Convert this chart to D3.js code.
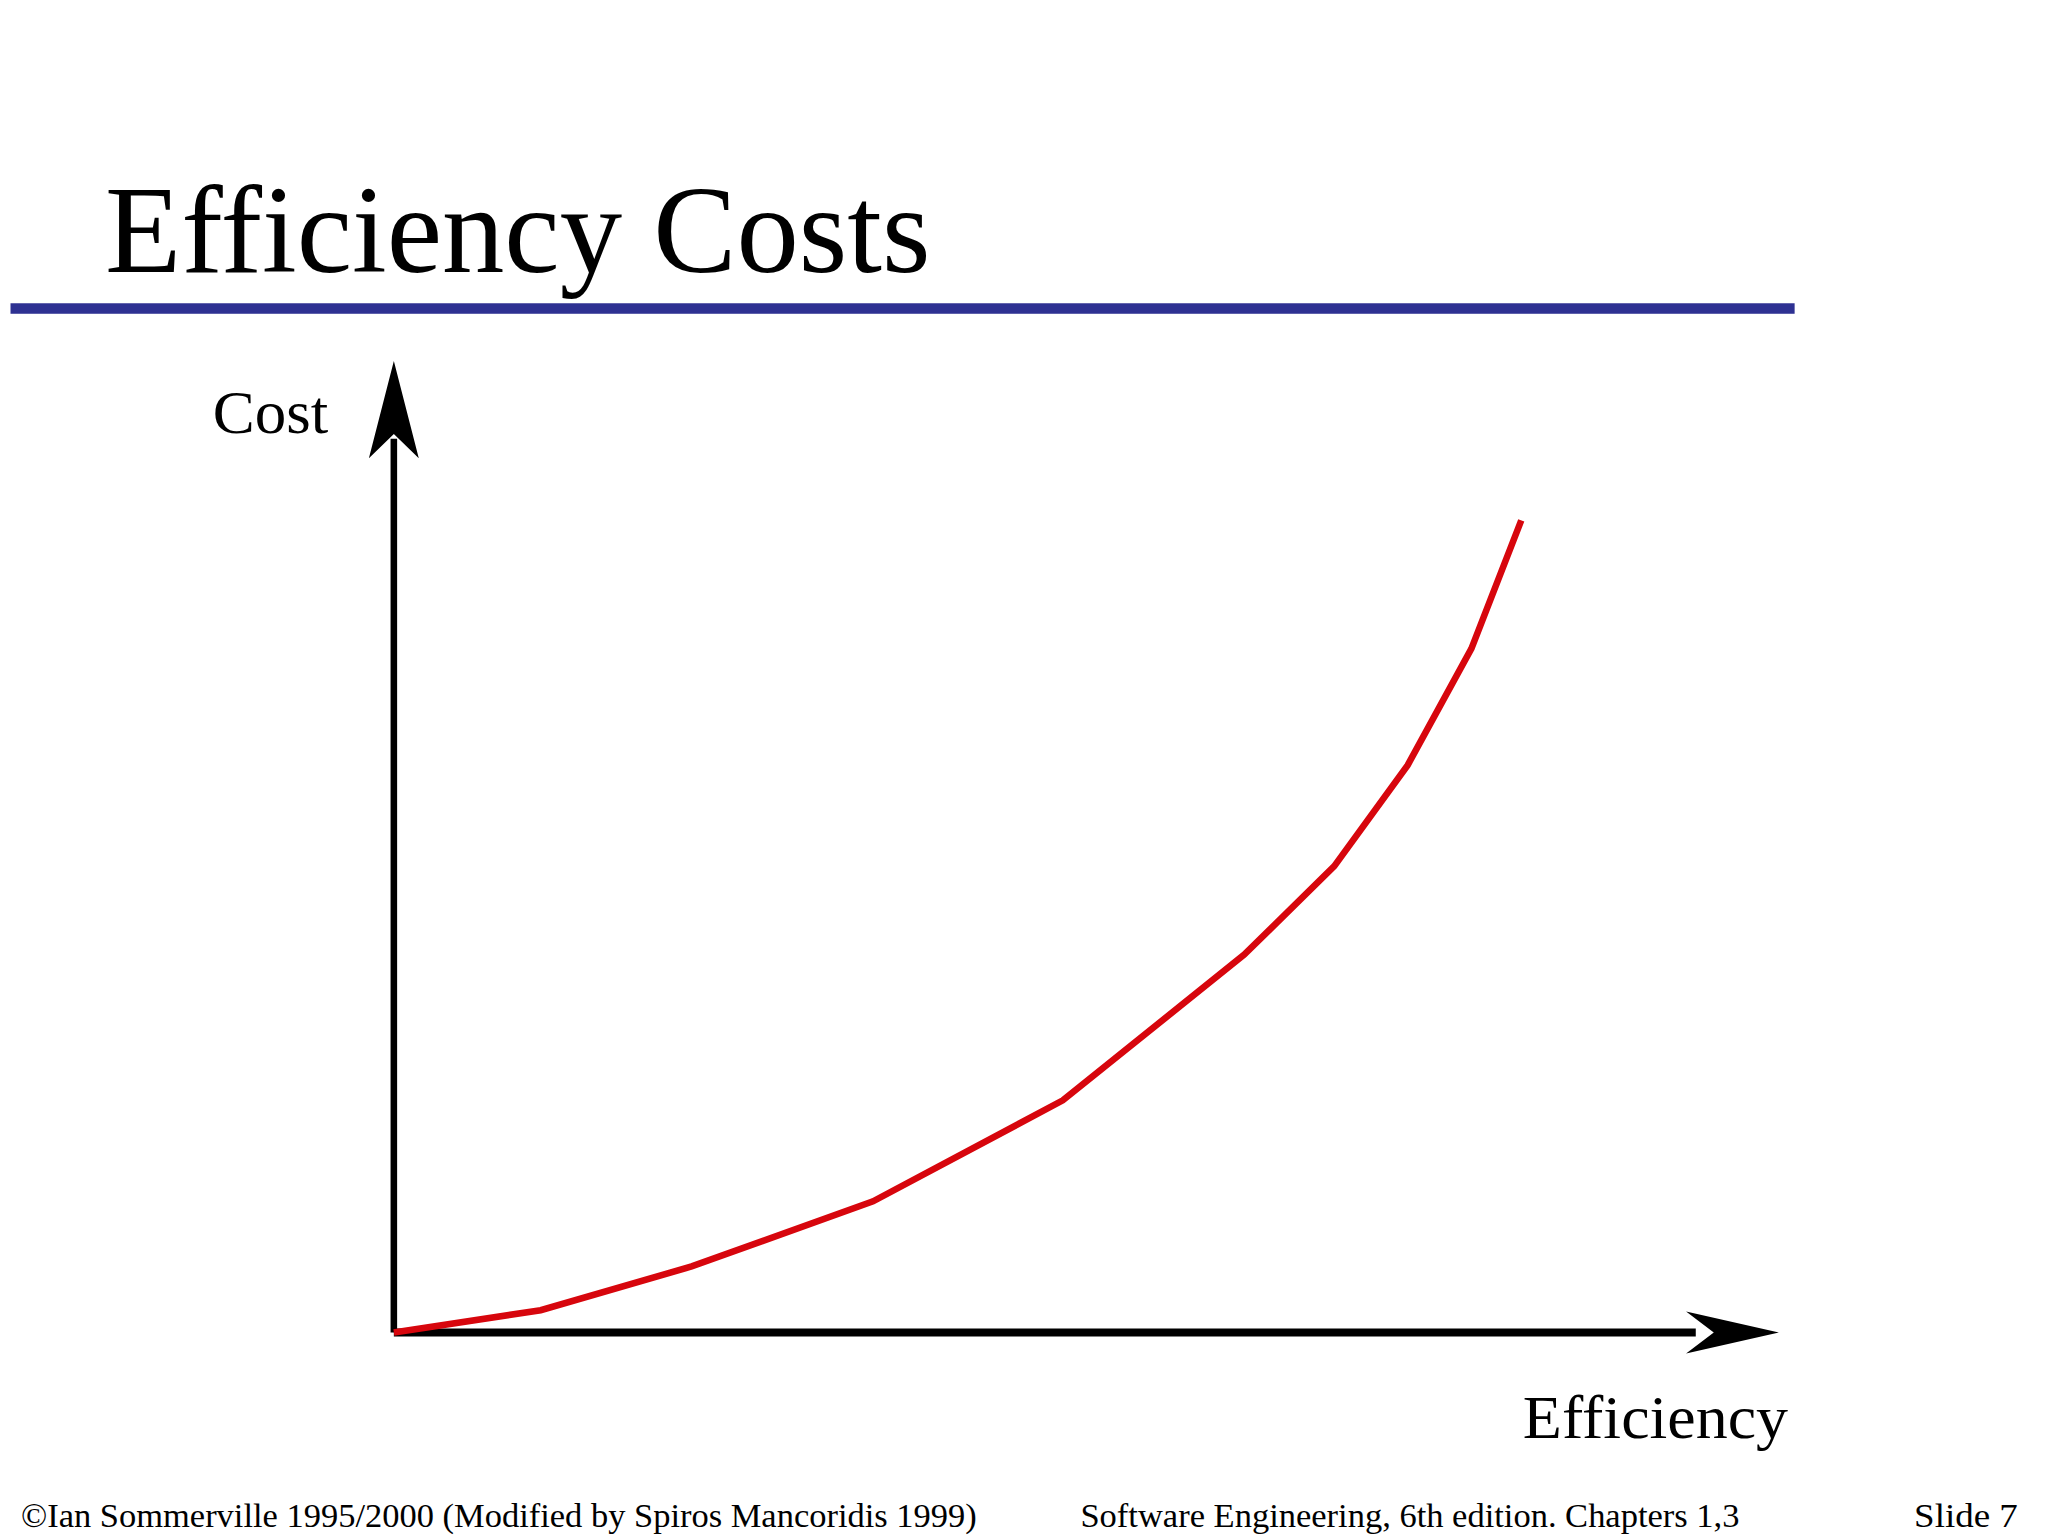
<!DOCTYPE html>
<html><head><meta charset="utf-8">
<script src="https://cdn.jsdelivr.net/npm/d3@7"></script>
<style>body{margin:0;background:#fff}</style>
</head><body>
<div id="chart"></div>
<script>
// efficiency (x) vs cost (y), both on 0-100 relative scale
const efficiency = [0, 10.6, 21.5, 34.6, 48.3, 61.4, 67.9, 73.2, 77.8, 81.4];
const cost = [0, 2.3, 6.8, 13.5, 23.9, 38.9, 48, 58.4, 70.4, 83.6];
const title = "Efficiency Costs";
const footer = ["©Ian Sommerville 1995/2000 (Modified by Spiros Mancoridis 1999)", "Software Engineering, 6th edition. Chapters 1,3", "Slide  7"];

const W = 1560, H = 1170;
const svg = d3.select("#chart").append("svg")
  .attr("width", 2048).attr("height", 1536)
  .attr("viewBox", [0, 0, W, H])
  .style("font-family", "'Liberation Serif', 'Times New Roman', serif");

const x = d3.scaleLinear().domain([0, 100]).range([300, 1355]);
const y = d3.scaleLinear().domain([0, 100]).range([1015, 275]);

svg.append("text").attr("x", 80).attr("y", 207).attr("font-size", 95).text(title);
svg.append("rect").attr("x", 8).attr("y", 231).attr("width", 1359).attr("height", 8).attr("fill", "#2e3192");

// axes with arrowheads
svg.append("line").attr("x1", x(0)).attr("y1", y(0)).attr("x2", x(0)).attr("y2", y(92))
  .attr("stroke", "#000").attr("stroke-width", 5);
svg.append("path").attr("d", `M${x(0)},${y(100)} L${x(0)-19},${y(90)} L${x(0)},${y(92.5)} L${x(0)+19},${y(90)}Z`);
svg.append("line").attr("x1", x(0)).attr("y1", y(0)).attr("x2", x(94)).attr("y2", y(0))
  .attr("stroke", "#000").attr("stroke-width", 6);
svg.append("path").attr("d", `M${x(100)},${y(0)} L${x(93.3)},${y(0)-16} L${x(95.3)},${y(0)} L${x(93.3)},${y(0)+16}Z`);

svg.append("path")
  .datum(efficiency.map((e, i) => [e, cost[i]]))
  .attr("fill", "none").attr("stroke", "#d7060d").attr("stroke-width", 5)
  .attr("d", d3.line().x(d => x(d[0])).y(d => y(d[1])));

svg.append("text").attr("x", 162).attr("y", 330).attr("font-size", 46)
  .attr("textLength", 88).attr("lengthAdjust", "spacingAndGlyphs").text("Cost");
svg.append("text").attr("x", 1160).attr("y", 1095).attr("font-size", 46)
  .attr("textLength", 202).attr("lengthAdjust", "spacingAndGlyphs").text("Efficiency");

const fx = [[16, "start", 728], [823, "start", 502], [1537, "end", 79]];
footer.forEach((t, i) => svg.append("text").attr("x", fx[i][0]).attr("y", 1163)
  .attr("text-anchor", fx[i][1]).attr("font-size", 26)
  .attr("textLength", fx[i][2]).attr("lengthAdjust", "spacingAndGlyphs").text(t));
</script>
</body></html>
